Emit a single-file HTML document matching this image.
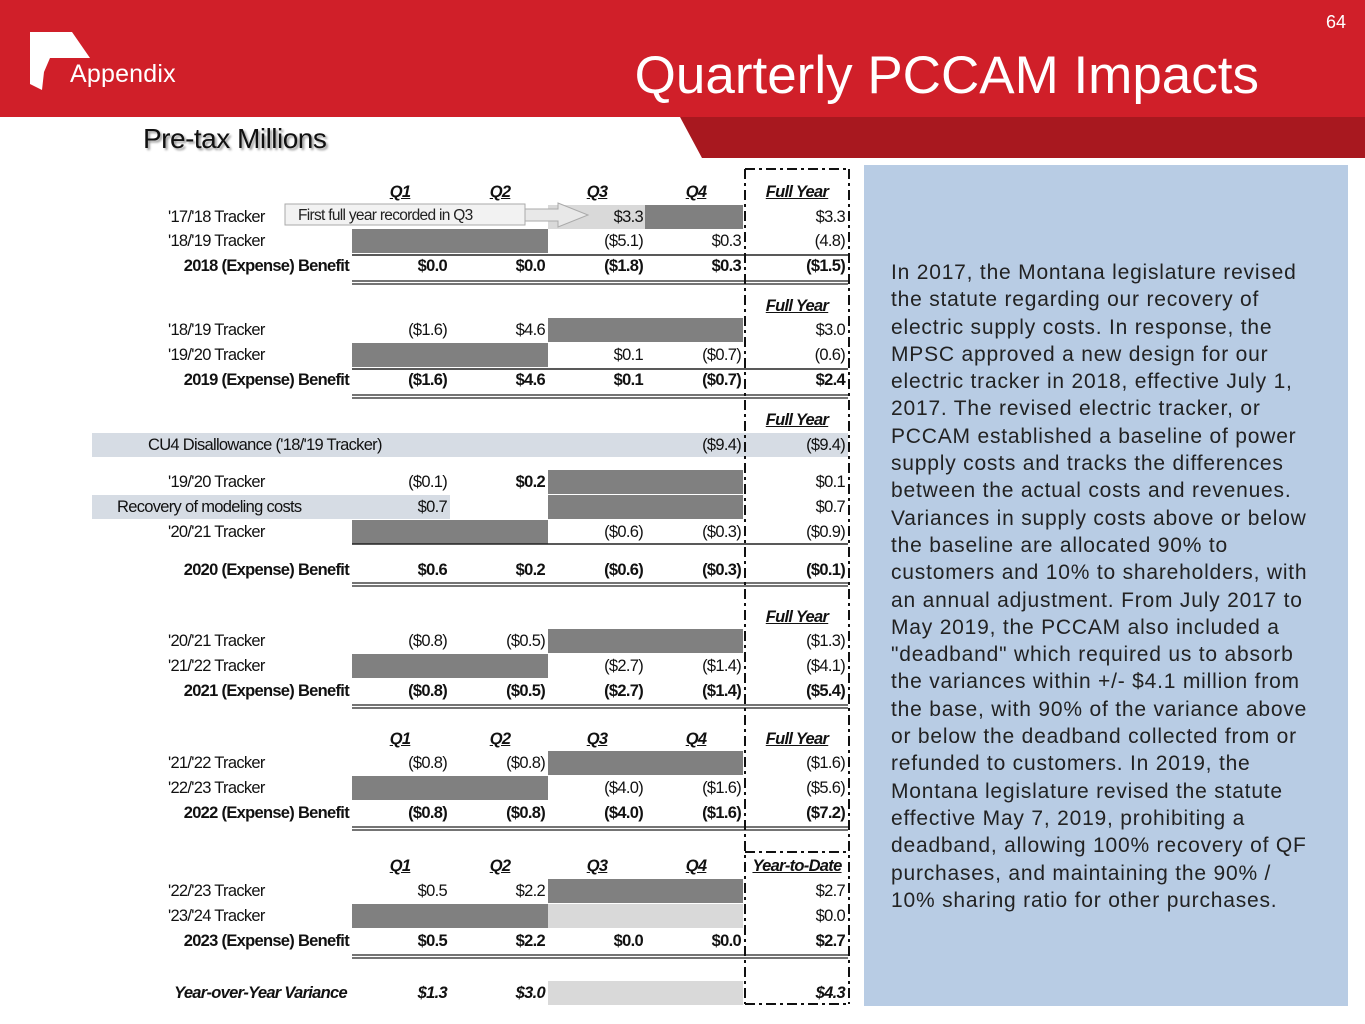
<!DOCTYPE html>
<html><head><meta charset="utf-8">
<style>
body{margin:0;width:1365px;height:1024px;position:relative;overflow:hidden;background:#fff;font-family:"Liberation Sans",sans-serif;}
.a{position:absolute;}
.c{position:absolute;font-size:16.5px;line-height:20px;white-space:nowrap;color:#111;letter-spacing:-0.7px;}
.b{font-weight:bold;}
.i{font-style:italic;font-weight:bold;}
.u{text-decoration:underline;}
#panel p{margin:0;}
</style></head><body>
<div class="a" style="left:0;top:0;width:1365px;height:117px;background:#d01f29;"></div>
<svg class="a" style="left:0;top:0" width="1365" height="160">
<polygon points="680,117 1365,117 1365,158 702,158" fill="#a8181f"/>
<polygon points="30,32 72,32 90,58 50,58 44,72 42,90 30,84" fill="#fff"/>
</svg>
<div class="a" style="left:1326px;top:12px;color:#fff;font-size:18px;">64</div>
<div class="a" style="left:70px;top:60px;color:#fff;font-size:25px;letter-spacing:0.2px;">Appendix</div>
<div class="a" style="right:106px;top:45px;color:#fff;font-size:53px;">Quarterly PCCAM Impacts</div>
<div class="a" style="left:143px;top:123px;font-size:28px;color:#111;text-shadow:2px 2px 2px #999;letter-spacing:-0.5px;">Pre-tax Millions</div>

<div class="a" id="panel" style="left:864px;top:165px;width:484px;height:841px;background:#b8cce4;">
<p style="position:absolute;left:27px;top:94px;width:428px;font-size:21px;letter-spacing:0.8px;line-height:27.3px;color:#222;">In 2017, the Montana legislature revised the statute regarding our recovery of electric supply costs. In response, the MPSC approved a new design for our electric tracker in 2018, effective July 1, 2017. The revised electric tracker, or PCCAM established a baseline of power supply costs and tracks the differences between the actual costs and revenues. Variances in supply costs above or below the baseline are allocated 90% to customers and 10% to shareholders, with an annual adjustment. From July 2017 to May 2019, the PCCAM also included a "deadband" which required us to absorb the variances within +/- $4.1 million from the base, with 90% of the variance above or below the deadband collected from or refunded to customers. In 2019, the Montana legislature revised the statute effective May 7, 2019, prohibiting a deadband, allowing 100% recovery of QF purchases, and maintaining the 90% / 10% sharing ratio for other purchases.</p>
</div>

<div id="tbl"></div>
<svg class="a" id="lines" style="left:0;top:0" width="1365" height="1024"></svg>

<script>
const shades=[[548,645,217,'l'],[645,743,217,'d'],[352,548,241,'d'],[548,743,330,'d'],[352,548,355,'d'],
[92,848,445,'b'],[548,743,482,'d'],[92,450,507,'b'],[548,743,507,'d'],[352,548,532,'d'],
[548,743,641,'d'],[352,548,666,'d'],[548,743,763,'d'],[352,548,788,'d'],
[548,743,891,'d'],[352,548,916,'d'],[548,743,916,'l'],[548,743,993,'l']];
const colX=[447,545,643,741,845];
const hdrX=[400,500,597,696,797];
const rows=[
[192,'h','',['Q1','Q2','Q3','Q4','Full Year']],
[217,'n',"'17/'18 Tracker",['','','$3.3','','$3.3']],
[241,'n',"'18/'19 Tracker",['','','($5.1)','$0.3','(4.8)']],
[266,'t','2018 (Expense) Benefit',['$0.0','$0.0','($1.8)','$0.3','($1.5)']],
[306,'h','',['','','','','Full Year']],
[330,'n',"'18/'19 Tracker",['($1.6)','$4.6','','','$3.0']],
[355,'n',"'19/'20 Tracker",['','','$0.1','($0.7)','(0.6)']],
[380,'t','2019 (Expense) Benefit',['($1.6)','$4.6','$0.1','($0.7)','$2.4']],
[420,'h','',['','','','','Full Year']],
[445,'w',"CU4 Disallowance ('18/'19 Tracker)",['','','','($9.4)','($9.4)']],
[482,'n',"'19/'20 Tracker",['($0.1)','$0.2','','','$0.1']],
[507,'r','Recovery of modeling costs',['$0.7','','','','$0.7']],
[532,'n',"'20/'21 Tracker",['','','($0.6)','($0.3)','($0.9)']],
[570,'t','2020 (Expense) Benefit',['$0.6','$0.2','($0.6)','($0.3)','($0.1)']],
[617,'h','',['','','','','Full Year']],
[641,'n',"'20/'21 Tracker",['($0.8)','($0.5)','','','($1.3)']],
[666,'n',"'21/'22 Tracker",['','','($2.7)','($1.4)','($4.1)']],
[691,'t','2021 (Expense) Benefit',['($0.8)','($0.5)','($2.7)','($1.4)','($5.4)']],
[739,'h','',['Q1','Q2','Q3','Q4','Full Year']],
[763,'n',"'21/'22 Tracker",['($0.8)','($0.8)','','','($1.6)']],
[788,'n',"'22/'23 Tracker",['','','($4.0)','($1.6)','($5.6)']],
[813,'t','2022 (Expense) Benefit',['($0.8)','($0.8)','($4.0)','($1.6)','($7.2)']],
[866,'h','',['Q1','Q2','Q3','Q4','Year-to-Date']],
[891,'n',"'22/'23 Tracker",['$0.5','$2.2','','','$2.7']],
[916,'n',"'23/'24 Tracker",['','','','','$0.0']],
[941,'t','2023 (Expense) Benefit',['$0.5','$2.2','$0.0','$0.0','$2.7']],
[993,'y','Year-over-Year Variance',['$1.3','$3.0','','','$4.3']]
];
const singles=[255,369,544];
const doubles=[281,395,583,705,827,955];
const tbl=document.getElementById('tbl');
const colors={d:'#808080',l:'#d9d9d9',b:'#d6dce4'};
shades.forEach(s=>{
  const e=document.createElement('div');
  
  
  e.className='a';
  e.style.cssText=`left:${s[0]}px;top:${s[2]-12}px;width:${s[1]-s[0]}px;height:24px;background:${colors[s[3]]}`;
  tbl.appendChild(e);
});
function put(txt,x,y,cls,align){
  const e=document.createElement('div');
  
  
  e.className='c '+cls;
  e.textContent=txt;
  if(align==='r'){e.style.right=(1365-x)+'px';}
  else if(align==='c'){e.style.left=(x-60)+'px';e.style.width='120px';e.style.textAlign='center';}
  else {e.style.left=x+'px';}
  e.style.top=(y-10)+'px';
  tbl.appendChild(e);
}
rows.forEach(r=>{
  const [y,t,lab,vals]=r;
  if(t==='h'){vals.forEach((v,i)=>{if(v)put(v,hdrX[i],y,'i u','c');});return;}
  if(t==='n')put(lab,168,y,'','l');
  if(t==='w')put(lab,148,y,'','l');
  if(t==='r')put(lab,117,y,'','l');
  if(t==='t')put(lab,349,y,'b','r');
  if(t==='y')put(lab,347,y,'i','r');
  const cls=t==='t'?'b':(t==='y'?'i':'');
  vals.forEach((v,i)=>{if(v)put(v,colX[i],y,(r[0]===482&&i===1)?'b':cls,'r');});
});
const svg=document.getElementById('lines');
let h='';
singles.forEach(y=>{h+=`<line x1="352" x2="848" y1="${y}" y2="${y}" stroke="#222" stroke-width="1.5"/>`;});
doubles.forEach(y=>{h+=`<line x1="352" x2="848" y1="${y}" y2="${y}" stroke="#222" stroke-width="1.2"/><line x1="352" x2="848" y1="${y+3}" y2="${y+3}" stroke="#222" stroke-width="1.2"/>`;});
h+=`<g stroke="#111" stroke-width="2" fill="none" stroke-dasharray="10,4,3,4"><line x1="745" x2="745" y1="169" y2="1004"/><line x1="849" x2="849" y1="169" y2="1004"/><line x1="745" x2="849" y1="169" y2="169"/><line x1="745" x2="849" y1="852" y2="852"/><line x1="745" x2="849" y1="1004" y2="1004"/></g>`;
h+=`<rect x="285" y="204" width="240" height="21" fill="#f2f2f2" stroke="#aaa"/><polygon points="525,209 558,209 558,203 588,215 558,227 558,221 525,221" fill="#e8e8e8" stroke="#aaa"/><text x="298" y="220" font-family="Liberation Sans" font-size="15.5" fill="#222" letter-spacing="-0.7">First full year recorded in Q3</text>`;
svg.innerHTML=h;
</script>
</body></html>
